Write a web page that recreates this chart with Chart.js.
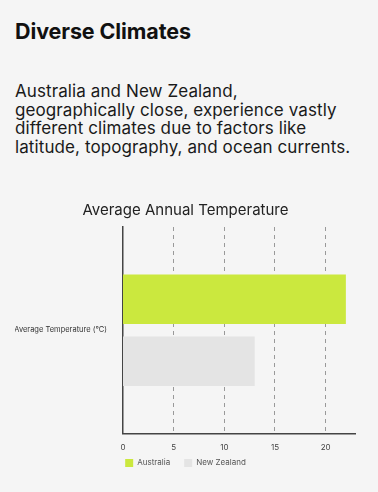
<!DOCTYPE html>
<html>
<head>
<meta charset="utf-8">
<script src="https://cdn.jsdelivr.net/npm/chart.js@4"></script>
<style>
  html, body { margin: 0; padding: 0; background: #f5f5f5; }
  body { width: 378px; height: 492px; position: relative; overflow: hidden; font-family: Inter, "Noto Sans", sans-serif; color: #111; }
  h1 { position: absolute; left: 15px; top: 18px; margin: 0; font-size: 21.5px; font-weight: 700; letter-spacing: -0.1px; }
  p { position: absolute; left: 15px; top: 82px; width: 355px; margin: 0; font-size: 17px; line-height: 18.5px; letter-spacing: 0.1px; color: #1a1a1a; }
  .chart-box { position: absolute; left: 15px; top: 197px; width: 341px; height: 294px; }
</style>
</head>
<body>
  <h1>Diverse Climates</h1>
  <p>Australia and New Zealand,<br>geographically close, experience vastly<br>different climates due to factors like<br>latitude, topography, and ocean currents.</p>
  <div class="chart-box"><canvas id="tempChart"></canvas></div>

<script>
// chart data
const categories = ['Average Temperature (°C)'];
const seriesNames = ['Australia', 'New Zealand'];
const australiaValues = [22];
const newZealandValues = [13];

const ctx = document.getElementById('tempChart').getContext('2d');

new Chart(ctx, {
  type: 'bar',
  data: {
    labels: categories,
    datasets: [
      {
        label: seriesNames[0],
        data: australiaValues,
        backgroundColor: '#cbe83e'
      },
      {
        label: seriesNames[1],
        data: newZealandValues,
        backgroundColor: '#e4e4e4'
      }
    ]
  },
  options: {
    indexAxis: 'y',
    responsive: true,
    maintainAspectRatio: false,
    animation: false,
    datasets: {
      bar: { categoryPercentage: 0.6, barPercentage: 0.8 }
    },
    plugins: {
      title: {
        display: true,
        text: 'Average Annual Temperature',
        color: '#222',
        font: { family: 'Inter', size: 15, weight: 'normal' },
        padding: { top: 4, bottom: 8 }
      },
      legend: {
        position: 'bottom',
        maxHeight: 30,
        labels: {
          boxWidth: 8,
          boxHeight: 8,
          color: '#555',
          font: { family: 'Inter', size: 8 },
          padding: 14
        }
      },
      tooltip: { enabled: false }
    },
    scales: {
      x: {
        min: 0,
        max: 23,
        grid: {
          color: '#999',
          drawTicks: false,
          lineWidth: c => c.tick && c.tick.value === 0 ? 0 : 1
        },
        border: { display: true, color: '#444', width: 1.5, dash: [4, 4] },
        ticks: {
          stepSize: 5,
          includeBounds: false,
          color: '#444',
          padding: 9,
          font: { family: 'Inter', size: 8 }
        }
      },
      y: {
        grid: { display: false },
        border: { display: true, color: '#444', width: 1.5 },
        ticks: {
          color: '#333',
          padding: 8,
          font: { family: 'Inter', size: 7.5 }
        },
        afterFit(scale) {
          scale.width = 108;
        }
      }
    }
  },
  plugins: [{
    // pull the legend up closer under the tick labels
    id: 'legendNudge',
    afterLayout(chart) {
      chart.legend.top -= 16;
      chart.legend.bottom -= 16;
    }
  }]
});
</script>
</body>
</html>
